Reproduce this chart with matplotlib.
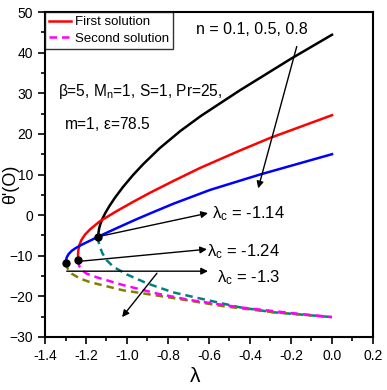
import numpy as np
import matplotlib
matplotlib.use('Agg')
import matplotlib.pyplot as plt

plt.rcParams['font.family'] = ['Liberation Sans', 'DejaVu Sans']
plt.rcParams['mathtext.fontset'] = 'custom'
plt.rcParams['mathtext.rm'] = 'Liberation Sans'
plt.rcParams['mathtext.it'] = 'Liberation Sans'

# first solution branches
lam_black_up = [-1.14, -1.139, -1.136, -1.13, -1.12, -1.105, -1.085, -1.06, -1.02, -0.97,
                -0.92, -0.84, -0.74, -0.64, -0.45, -0.2, 0.0]
th_black_up = [-5.3, -4.3, -3.3, -2.2, -0.9, 0.6, 2.3, 4.2, 6.9, 9.9,
               12.6, 16.5, 20.7, 24.4, 30.7, 38.5, 44.4]
lam_red_up = [-1.238, -1.239, -1.237, -1.232, -1.222, -1.205, -1.18, -1.132, -1.05, -0.969,
              -0.888, -0.774, -0.644, -0.449, -0.302, 0.0]
th_red_up = [-11.1, -9.8, -8.5, -7.3, -6.1, -4.8, -3.5, -1.5, 1.0, 3.3,
             5.5, 8.4, 11.6, 15.9, 19.0, 24.6]
lam_blue_up = [-1.298, -1.297, -1.293, -1.285, -1.27, -1.25, -1.225, -1.197, -1.132, -1.05,
               -0.953, -0.888, -0.774, -0.595, -0.351, 0.0]
th_blue_up = [-11.7, -11.0, -10.3, -9.6, -8.8, -8.1, -7.4, -6.7, -5.1, -3.2,
              -1.0, 0.4, 2.8, 6.2, 10.0, 15.0]

# second solution branches
lam_teal = [-1.14, -1.139, -1.135, -1.12, -1.099, -1.067, -1.001, -0.902, -0.776, -0.61,
            -0.449, -0.288, 0.0]
th_teal = [-5.3, -6.4, -7.4, -9.4, -11.1, -12.7, -14.6, -16.8, -19.0, -20.9,
           -22.7, -23.9, -25.1]
lam_mag = [-1.238, -1.237, -1.232, -1.221, -1.197, -1.148, -1.02, -0.854, -0.693, -0.449, -0.2, 0.0]
th_mag = [-11.1, -11.8, -12.6, -13.5, -14.4, -15.3, -17.2, -19.3, -20.9, -22.7, -24.1, -25.1]
lam_olive = [-1.298, -1.297, -1.294, -1.286, -1.27, -1.23, -1.18, -1.02, -0.776, -0.532, -0.288, 0.0]
th_olive = [-11.7, -12.0, -12.6, -13.5, -14.4, -15.6, -16.5, -18.5, -20.4, -22.4, -23.9, -25.1]

lam_c = [-1.14, -1.238, -1.298]
th_c = [-5.3, -11.1, -11.7]
lam_c_labels = ['-1.14', '-1.24', '-1.3']

fig = plt.figure(figsize=(3.87, 3.90), dpi=100)
ax = fig.add_axes([45/387, 53/390, 328/387, 325/390])

lw = 1.8
dash = (0, (3, 2))
ax.plot(lam_black_up, th_black_up, color='black', lw=lw)
ax.plot(lam_red_up, th_red_up, color='#ff0000', lw=lw, label='First solution')
ax.plot(lam_blue_up, th_blue_up, color='#0000ff', lw=lw)
ax.plot(lam_teal, th_teal, color='#008080', lw=lw, ls=dash)
ax.plot(lam_olive, th_olive, color='#808000', lw=lw, ls=dash)
ax.plot(lam_mag, th_mag, color='#ff00ff', lw=lw, ls=dash, label='Second solution')
ax.plot(lam_c, th_c, 'o', color='black', ms=5, zorder=5)

ap = dict(arrowstyle='-|>', color='black', lw=1.0, mutation_scale=10, shrinkA=0, shrinkB=0)
# n arrow
ax.annotate('', xy=(-0.36, 6.6), xytext=(-0.172, 41.5), arrowprops=ap)
ax.text(-0.39, 45.8, 'n = 0.1, 0.5, 0.8', fontsize=11.5, ha='center', va='center')

# lambda_c arrows and labels
ax.annotate('', xy=(-0.605, 0.5), xytext=(-1.14, -5.3), arrowprops=ap)
ax.annotate('', xy=(-0.61, -8.4), xytext=(-1.238, -11.4), arrowprops=ap)
ax.annotate('', xy=(-0.605, -13.8), xytext=(-1.294, -13.8), arrowprops=ap)
ax.annotate('', xy=(-1.024, -25.1), xytext=(-0.854, -14.3), arrowprops=ap)
ax.text(-0.585, 0.3, r'$\lambda_\mathrm{c}$ = ' + lam_c_labels[0], fontsize=12, ha='left', va='center')
ax.text(-0.61, -9.1, r'$\lambda_\mathrm{c}$ = ' + lam_c_labels[1], fontsize=12, ha='left', va='center')
ax.text(-0.56, -15.3, r'$\lambda_\mathrm{c}$ = ' + lam_c_labels[2], fontsize=12, ha='left', va='center')

ax.text(-1.337, 30.5, r'$\beta$=5, M$_\mathrm{n}$=1, S=1, Pr=25,', fontsize=11.2, ha='left', va='center')
ax.text(-1.307, 22.4, r'm=1, $\varepsilon$=78.5', fontsize=11.2, ha='left', va='center')

ax.set_xlim(-1.4, 0.2)
ax.set_ylim(-30, 50)
ax.set_xticks(np.arange(-1.4, 0.21, 0.2))
ax.set_xticklabels(['-1.4', '-1.2', '-1.0', '-0.8', '-0.6', '-0.4', '-0.2', '0.0', '0.2'])
ax.set_yticks(np.arange(-30, 51, 10))
ax.set_xticks(np.arange(-1.3, 0.2, 0.2), minor=True)
ax.set_yticks(np.arange(-25, 50, 10), minor=True)
ax.tick_params(which='both', direction='out', labelsize=10, width=1.2)
ax.tick_params(which='major', length=5)
ax.tick_params(which='minor', length=3)
for s in ax.spines.values():
    s.set_linewidth(1.5)

ax.set_xlabel(r'$\lambda$', fontsize=15)
ax.set_ylabel("θ'(O)", fontsize=13)
ax.xaxis.set_label_coords(0.457, -0.123)
ax.xaxis.label.set_va('center')
ax.yaxis.set_label_coords(-0.104, 0.47)
ax.yaxis.label.set_va('center')

leg = ax.legend(loc='upper left', fontsize=9.5, frameon=True, fancybox=False,
                edgecolor='black', borderaxespad=0, handlelength=1.7, borderpad=0.3,
                labelspacing=0.35, handletextpad=0.3)
leg.get_frame().set_linewidth(1.0)

fig.savefig('out.png', dpi=100)
